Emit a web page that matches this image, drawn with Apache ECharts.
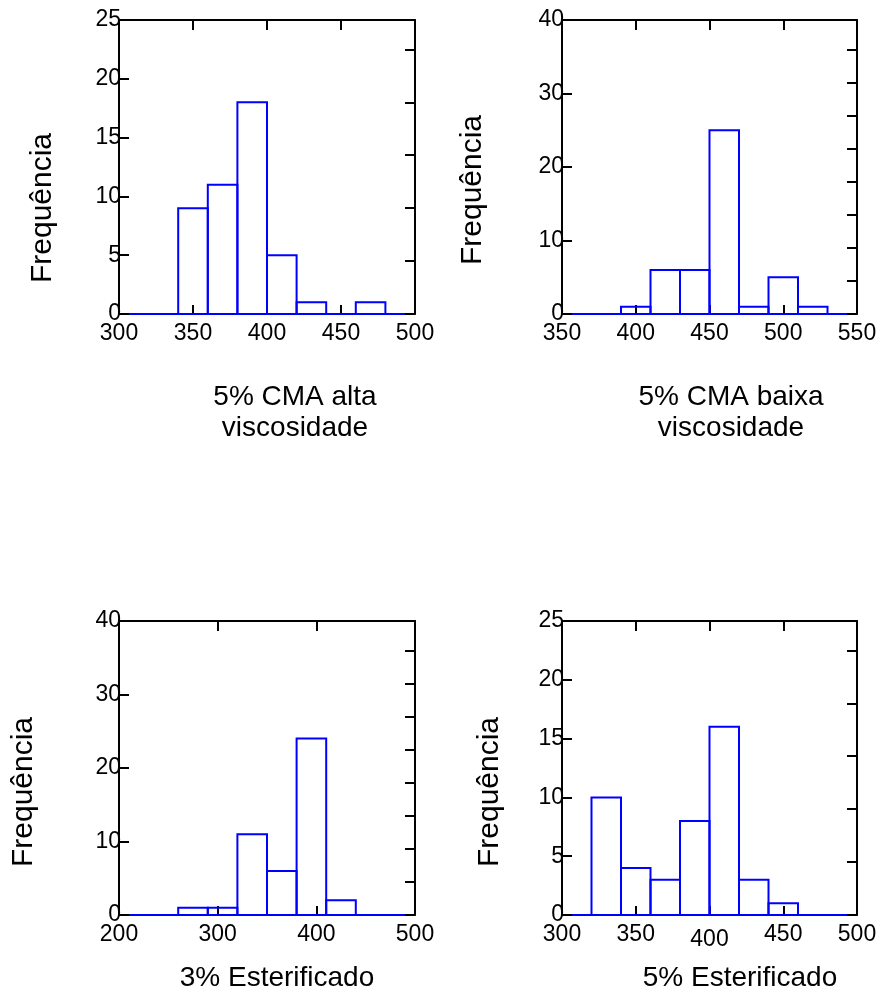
<!DOCTYPE html>
<html>
<head>
<meta charset="utf-8">
<script src="https://cdn.jsdelivr.net/npm/echarts@6/dist/echarts.min.js"></script>
<style>
html,body{margin:0;padding:0;background:#fff;}
#chart{width:885px;height:993px;}
</style>
</head>
<body>
<div id="chart"></div>
<script>
// Panel 1: 5% CMA alta viscosidade
const edges1 = [340, 360, 380, 400, 420, 440, 460, 480];
const counts1 = [9, 11, 18, 5, 1, 0, 1];
// Panel 2: 5% CMA baixa viscosidade
const edges2 = [390, 410, 430, 450, 470, 490, 510, 530];
const counts2 = [1, 6, 6, 25, 1, 5, 1];
// Panel 3: 3% Esterificado
const edges3 = [260, 290, 320, 350, 380, 410, 440];
const counts3 = [1, 1, 11, 6, 24, 2];
// Panel 4: 5% Esterificado
const edges4 = [320, 340, 360, 380, 400, 420, 440, 460];
const counts4 = [10, 4, 3, 8, 16, 3, 1];

const xTitles = ['5% CMA alta\nviscosidade', '5% CMA baixa\nviscosidade', '3% Esterificado', '5% Esterificado'];
const yTitle = 'Frequência';

const xRanges = [[300, 500, 50], [350, 550, 50], [200, 500, 100], [300, 500, 50]];
const yRanges = [[0, 25, 5], [0, 40, 10], [0, 40, 10], [0, 25, 5]];
const rightTickStep = 4.5;

const FONT = 'Liberation Sans, Arial, sans-serif';
const BLUE = '#0000ff';
const TICK_FONT = 23;

const grids = [
  {left: 119, top: 20, width: 296, height: 294},
  {left: 562, top: 20, width: 295, height: 294},
  {left: 119, top: 621, width: 296, height: 294},
  {left: 562, top: 621, width: 295, height: 294}
];

const panels = [[edges1, counts1], [edges2, counts2], [edges3, counts3], [edges4, counts4]];

const xAxes = [], yAxes = [], series = [];
grids.forEach((g, i) => {
  const [xmin, xmax, xint] = xRanges[i];
  const [ymin, ymax, yint] = yRanges[i];
  const labelOpt = {
    show: true, color: '#000', fontSize: TICK_FONT, fontFamily: FONT, margin: 8,
    showMinLabel: true, showMaxLabel: true
  };
  if (i === 3) {
    labelOpt.formatter = v => v === 400 ? '{low|' + v + '}' : '{n|' + v + '}';
    labelOpt.rich = {
      n: {fontSize: TICK_FONT, fontFamily: FONT, color: '#000'},
      low: {fontSize: TICK_FONT, fontFamily: FONT, color: '#000', padding: [5, 0, 0, 0]}
    };
  }
  xAxes.push({
    type: 'value', gridIndex: i, position: 'bottom', min: xmin, max: xmax, interval: xint,
    axisLine: {show: true, onZero: false, lineStyle: {color: BLUE, width: 2}},
    axisTick: {show: true, inside: true, length: 9, lineStyle: {color: '#000', width: 2}},
    axisLabel: labelOpt,
    splitLine: {show: false}
  });
  xAxes.push({
    type: 'value', gridIndex: i, position: 'top', min: xmin, max: xmax, interval: xint,
    axisLine: {show: true, onZero: false, lineStyle: {color: '#000', width: 2}},
    axisTick: {show: true, inside: true, length: 10, lineStyle: {color: '#000', width: 2}},
    axisLabel: {show: false},
    splitLine: {show: false}
  });
  yAxes.push({
    type: 'value', gridIndex: i, position: 'left', min: ymin, max: ymax, interval: yint,
    axisLine: {show: true, onZero: false, lineStyle: {color: '#000', width: 2}},
    axisTick: {show: true, inside: true, length: 10, lineStyle: {color: '#000', width: 2}},
    axisLabel: {show: true, color: '#000', fontSize: TICK_FONT, fontFamily: FONT, margin: -2,
      padding: [3, 0, 0, 0], showMinLabel: true, showMaxLabel: true},
    splitLine: {show: false}
  });
  yAxes.push({
    type: 'value', gridIndex: i, position: 'right', min: ymin, max: ymax, interval: rightTickStep,
    axisLine: {show: true, onZero: false, lineStyle: {color: '#000', width: 2}},
    axisTick: {show: true, inside: true, length: 10, lineStyle: {color: '#000', width: 2}},
    axisLabel: {show: false},
    splitLine: {show: false}
  });
  const [edges, counts] = panels[i];
  series.push({
    type: 'custom',
    xAxisIndex: 2 * i,
    yAxisIndex: 2 * i,
    z: 5,
    data: counts.map((c, k) => [edges[k], edges[k + 1], c]),
    renderItem: function (params, api) {
      const p0 = api.coord([api.value(0), api.value(2)]);
      const p1 = api.coord([api.value(1), 0]);
      return {
        type: 'rect',
        shape: {x: p0[0], y: p0[1], width: p1[0] - p0[0], height: p1[1] - p0[1]},
        style: {fill: 'none', stroke: BLUE, lineWidth: 2}
      };
    }
  });
});

const yTitlePos = [[42.5, 208], [472.5, 190], [24, 792], [490, 792]];
const xTitlePos = [[295, 413], [731, 413], [277, 978], [740, 978]];

const graphics = [];
yTitlePos.forEach(p => {
  graphics.push({
    type: 'text', x: p[0], y: p[1], rotation: Math.PI / 2,
    style: {text: yTitle, fontSize: 30, fontFamily: FONT, fill: '#000',
      align: 'center', verticalAlign: 'middle'}
  });
});
xTitlePos.forEach((p, i) => {
  graphics.push({
    type: 'text', x: p[0], y: p[1],
    style: {text: xTitles[i], fontSize: 28, lineHeight: 31, fontFamily: FONT, fill: '#000',
      align: 'center', verticalAlign: 'middle'}
  });
});

const chart = echarts.init(document.getElementById('chart'), null, {renderer: 'canvas'});
chart.setOption({
  backgroundColor: '#fff',
  animation: false,
  grid: grids.map(g => Object.assign({containLabel: false}, g)),
  xAxis: xAxes,
  yAxis: yAxes,
  series: series,
  graphic: graphics
});
</script>
</body>
</html>
